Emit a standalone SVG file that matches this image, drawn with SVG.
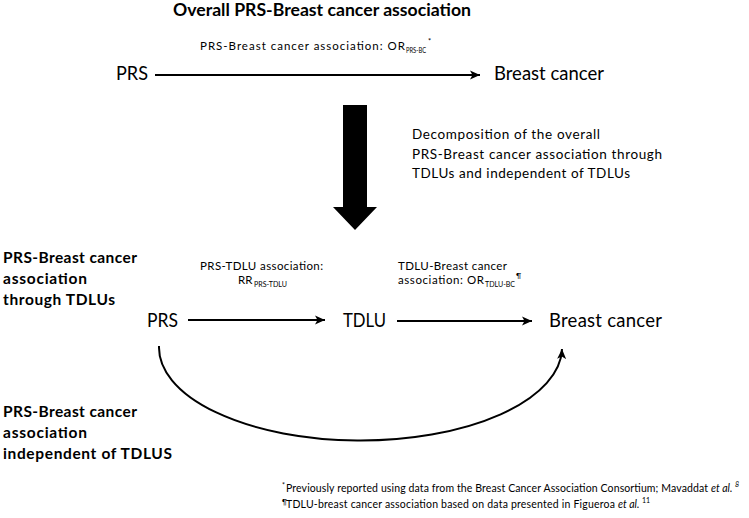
<svg xmlns="http://www.w3.org/2000/svg" width="749" height="518" viewBox="0 0 749 518">
<style>
text{font-family:Lato,"Open Sans","Liberation Sans",sans-serif;fill:#000}
.title{font-size:16.5px;font-weight:bold}
.node{font-size:18.5px}
.lab{font-size:11.5px}
.sub{font-size:7.5px}
.dec{font-size:13.5px}
.side{font-size:15.5px;font-weight:bold}
.foot{font-size:10.5px}
.fsup{font-size:7px}
.conn{fill:none;stroke:#000;stroke-width:2}
</style>
<defs>
<marker id="ah" markerUnits="userSpaceOnUse" markerWidth="11" markerHeight="10" refX="10" refY="5" orient="auto">
<path d="M0,0.5 L10,5 L0,9.5 L2.5,5 z" fill="#000"/>
</marker>
</defs>
<rect width="749" height="518" fill="#fff"/>
<text class="title" x="173" y="16" textLength="298" lengthAdjust="spacingAndGlyphs">Overall PRS-Breast cancer association</text>
<g id="top-label">
<text class="lab" x="200" y="50" textLength="205">PRS-Breast cancer association: OR</text>
<text class="sub" x="406" y="53" textLength="20" lengthAdjust="spacingAndGlyphs">PRS-BC</text>
<text class="sub" x="428" y="44">*</text>
</g>
<g id="node-prs-top"><text class="node" x="116" y="80" textLength="32" lengthAdjust="spacingAndGlyphs">PRS</text></g>
<g id="node-bc-top"><text class="node" x="494" y="80">Breast cancer</text></g>
<g id="decomposition-arrow">
<polygon points="343,105 367,105 367,207 377,207 355,230 333,207 343,207" fill="#000"/>
</g>
<g id="decomposition-text">
<text class="dec" x="412" y="139" textLength="188">Decomposition of the overall</text>
<text class="dec" x="412" y="158.5" textLength="250">PRS-Breast cancer association through</text>
<text class="dec" x="412" y="178" textLength="218">TDLUs and independent of TDLUs</text>
</g>
<g id="side-label-through">
<text class="side" x="3" y="263" textLength="134">PRS-Breast cancer</text>
<text class="side" x="3" y="284" textLength="84">association</text>
<text class="side" x="3" y="305" textLength="112">through TDLUs</text>
</g>
<g id="label-prs-tdlu">
<text class="lab" x="200" y="270" textLength="123">PRS-TDLU association:</text>
<text class="lab" x="238" y="284">RR</text>
<text class="sub" x="254" y="287" textLength="33" lengthAdjust="spacingAndGlyphs">PRS-TDLU</text>
</g>
<g id="label-tdlu-bc">
<text class="lab" x="398" y="270" textLength="109">TDLU-Breast cancer</text>
<text class="lab" x="398" y="284" textLength="86">association: OR</text>
<text class="sub" x="485" y="287" textLength="30" lengthAdjust="spacingAndGlyphs">TDLU-BC</text>
<text class="sub" x="516" y="279">¶</text>
</g>
<g id="node-prs"><text class="node" x="147" y="327" textLength="31" lengthAdjust="spacingAndGlyphs">PRS</text></g>
<g id="node-tdlu"><text class="node" x="343" y="327" textLength="43" lengthAdjust="spacingAndGlyphs">TDLU</text></g>
<g id="node-bc"><text class="node" x="549" y="327" textLength="113">Breast cancer</text></g>
<g id="connectors">
<line class="conn" x1="155" y1="75" x2="480" y2="75" marker-end="url(#ah)"/>
<line class="conn" x1="188" y1="320" x2="325" y2="320" marker-end="url(#ah)"/>
<line class="conn" x1="397" y1="321" x2="532" y2="321" marker-end="url(#ah)"/>
<path class="conn" d="M159,346 A201.5,93 0 0 0 562,349" marker-end="url(#ah)"/>
</g>
<g id="side-label-independent">
<text class="side" x="3" y="417" textLength="134">PRS-Breast cancer</text>
<text class="side" x="3" y="438" textLength="84">association</text>
<text class="side" x="3" y="459" textLength="169">independent of TDLUS</text>
</g>
<g id="footnotes">
<text class="fsup" x="282" y="488">*</text>
<text class="foot" x="286" y="492" textLength="422">Previously reported using data from the Breast Cancer Association Consortium; Mavaddat</text>
<text class="foot" x="711" y="492" font-style="italic">et al.</text>
<text class="fsup" x="735" y="487" font-style="italic">8</text>
<text class="fsup" x="282" y="505">¶</text>
<text class="foot" x="286" y="508" textLength="329">TDLU-breast cancer association based on data presented in Figueroa</text>
<text class="foot" x="618" y="508" font-style="italic">et al.</text>
<text class="fsup" x="642" y="503">11</text>
</g>
</svg>
